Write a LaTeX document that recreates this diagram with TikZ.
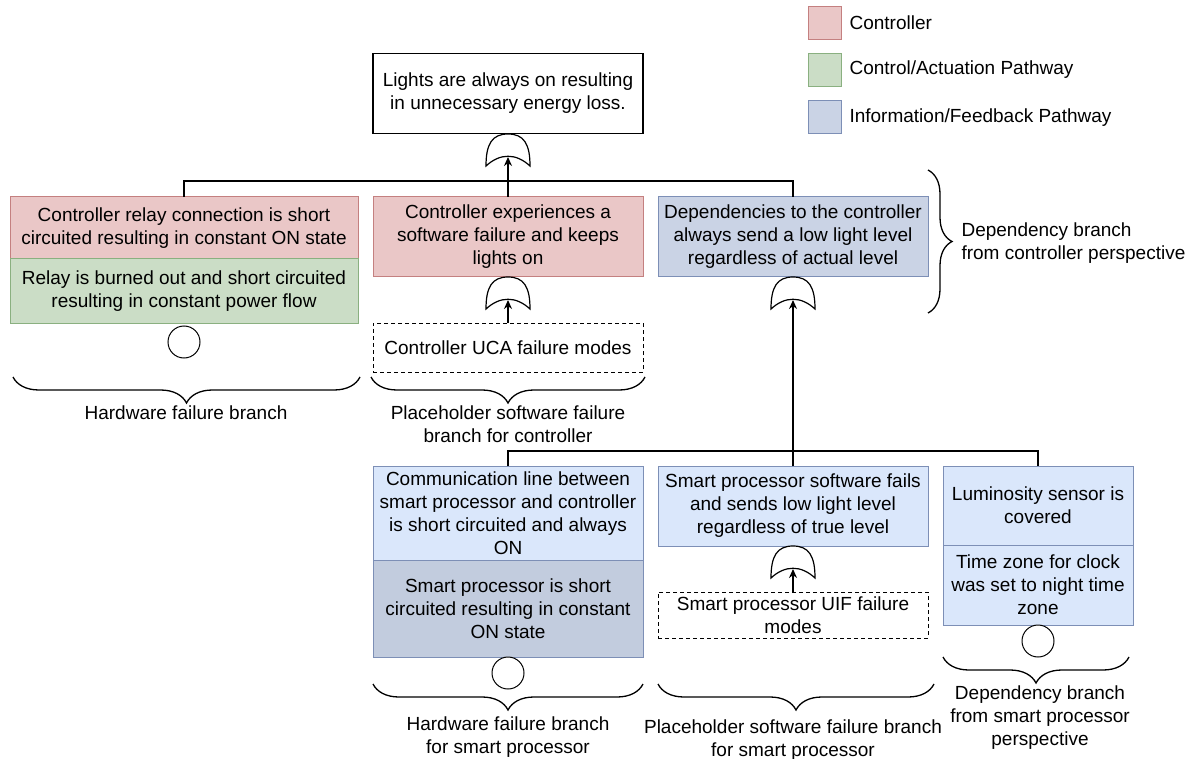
\documentclass[tikz,border=0pt]{standalone}
\usepackage{fontspec}
\setmainfont{Liberation Sans}
\usetikzlibrary{positioning, arrows.meta, decorations.pathreplacing}

\definecolor{ctrlfill}{RGB}{234,199,199}
\definecolor{ctrldraw}{RGB}{196,128,128}
\definecolor{actfill}{RGB}{203,221,198}
\definecolor{actdraw}{RGB}{138,176,128}
\definecolor{infofill}{RGB}{202,211,229}
\definecolor{infodraw}{RGB}{125,143,182}
\definecolor{lightfill}{RGB}{218,231,251}
\definecolor{darkfill}{RGB}{194,204,222}

\tikzset{
  box/.style={draw, line width=1pt, outer sep=0pt, inner sep=2pt, align=center},
  ctrl/.style={box, fill=ctrlfill, draw=ctrldraw},
  act/.style={box, fill=actfill, draw=actdraw},
  info/.style={box, fill=infofill, draw=infodraw},
  infolight/.style={box, fill=lightfill, draw=infodraw},
  infodark/.style={box, fill=darkfill, draw=infodraw},
  undev/.style={box, fill=white, draw=black, dashed, dash pattern=on 4pt off 3pt},
  basic/.style={circle, draw, line width=1pt, fill=white, minimum size=32pt, inner sep=0pt, outer sep=0pt},
  link/.style={line width=1.4pt},
  arrow/.style={line width=1.4pt, -{Stealth[length=9pt, width=8pt]}},
  curlydown/.style={decorate, decoration={brace, mirror, amplitude=26pt}, line width=1.3pt},
  curlyright/.style={decorate, decoration={brace, amplitude=24pt}, line width=1.3pt},
  orgate/.pic={
    \draw[fill=white, line width=1.2pt] (-22,32) .. controls (-22,10) and (-16,0) .. (0,0)
      .. controls (16,0) and (22,10) .. (22,32)
      .. controls (8,19) and (-8,19) .. (-22,32) -- cycle;
    \coordinate (-in) at (0,23);
  }
}

\begin{document}
\begin{tikzpicture}[x=1pt, y=-1pt, font=\fontsize{19}{23}\selectfont]
    \useasboundingbox (0,0) rectangle (1188,759);

    % legend
    \node[ctrl, minimum size=33pt] (key1) at (824.5,23) {};
    \node[act, minimum size=33pt] (key2) at (824.5,70) {};
    \node[info, minimum size=33pt] (key3) at (824.5,117.5) {};
    \node[anchor=west] (keytxt1) at (846,23) {Controller};
    \node[anchor=west] (keytxt2) at (846,70) {Control/Actuation Pathway};
    \node[anchor=west] (keytxt3) at (846,117.5) {Information/Feedback Pathway};

    % top event and first level
    \node[box, fill=white, line width=1.3pt, minimum width=270pt, minimum height=80pt] (top) at (508,93.5) {Lights are always on resulting\\in unnecessary energy loss.};
    \node[ctrl, minimum width=348pt, minimum height=62pt] (relay) at (184,228) {Controller relay connection is short\\circuited resulting in constant ON state};
    \node[act, minimum width=348pt, minimum height=64pt, below=0pt of relay] (burn) {Relay is burned out and short circuited\\resulting in constant power flow};
    \node[ctrl, minimum width=270pt, minimum height=80pt] (sw) at (508,237) {Controller experiences a\\software failure and keeps\\lights on};
    \node[info, minimum width=270pt, minimum height=80pt] (dep) at (793,237) {Dependencies to the controller\\always send a low light level\\regardless of actual level};
    \node[undev, minimum width=270pt, minimum height=49pt] (uca) at (508,347.5) {Controller UCA failure modes};
    \node[basic, below=3pt of burn] (bas1) {};

    % second level
    \node[infolight, minimum width=270pt, minimum height=94pt] (comm) at (508,513) {Communication line between\\smart processor and controller\\is short circuited and always\\ON};
    \node[infodark, minimum width=270pt, minimum height=97pt, below=0pt of comm] (proc) {Smart processor is short\\circuited resulting in constant\\ON state};
    \node[infolight, minimum width=270pt, minimum height=80pt] (spsw) at (793,506) {Smart processor software fails\\and sends low light level\\regardless of true level};
    \node[undev, minimum width=270pt, minimum height=46pt] (uif) at (793,615) {Smart processor UIF failure\\modes};
    \node[infolight, minimum width=190pt, minimum height=79pt] (lum) at (1038,505.5) {Luminosity sensor is\\covered};
    \node[infolight, minimum width=190pt, minimum height=80pt, below=0pt of lum] (tz) {Time zone for clock\\was set to night time\\zone};
    \node[basic, below=0pt of proc] (bas2) {};
    \node[basic, below=0pt of tz] (bas3) {};

    % gates
    \pic (g1) at (508,134) {orgate};
    \pic (g2) at (508,277) {orgate};
    \pic (g3) at (793,277) {orgate};
    \pic (g4) at (793,546) {orgate};

    % connections
    \coordinate (bus1) at (508,181);
    \coordinate (bus2) at (793,451);
    \draw[link] (relay.north) |- (bus1) -| (dep.north);
    \draw[arrow] (sw.north) -- (g1-in);
    \draw[arrow] (uca.north) -- (g2-in);
    \draw[link] (comm.north) |- (bus2) -| (lum.north);
    \draw[arrow] (spsw.north) -- (g3-in);
    \draw[arrow] (uif.north) -- (g4-in);

    % branches
    \draw[curlydown] (13,377) -- (360,377);
    \draw[curlydown] (371,377) -- (645,377);
    \draw[curlyright] (928,170) -- (928,313);
    \draw[curlydown] (373,684) -- (643,684);
    \draw[curlydown] (658,684) -- (934,684);
    \draw[curlydown] (943,657) -- (1129,657);

    \node (lbl1) at (186,413) {Hardware failure branch};
    \node[align=center] (lbl2) at (508,424) {Placeholder software failure\\branch for controller};
    \node[align=left, anchor=west] (lbl3) at (958,243) {Dependency branch\\from controller perspective};
    \node[align=center] (lbl4) at (508,737) {Hardware failure branch\\for smart processor};
    \node[align=center] (lbl5) at (793,740) {Placeholder software failure branch\\for smart processor};
    \node[align=center] (lbl6) at (1040,718) {Dependency branch\\from smart processor\\perspective};
\end{tikzpicture}
\end{document}
